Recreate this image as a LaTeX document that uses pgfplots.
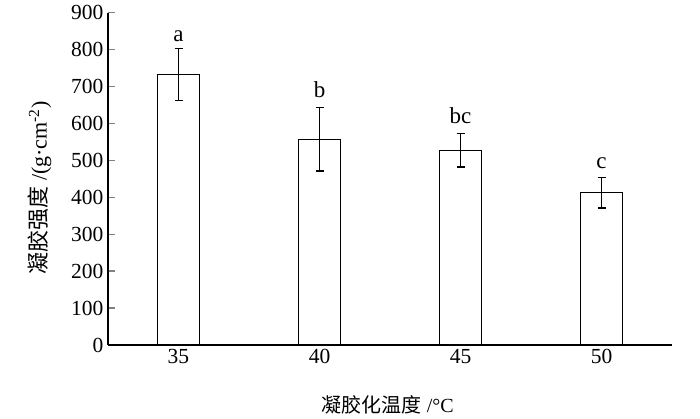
\documentclass[border=0pt]{standalone}
\usepackage{pgfplots}
\pgfplotsset{compat=1.18}
\usepackage{fontspec}
\setmainfont{Liberation Serif}
\newfontfamily\cjk{Noto Sans CJK SC}
\begin{document}
\begin{tikzpicture}[x=1pt,y=1pt]
\useasboundingbox (-108,-74) rectangle (592,345);
\begin{axis}[
  at={(0,0)}, anchor=south west,
  scale only axis, width=564pt, height=332.5pt,
  xmin=-0.5, xmax=3.5, ymin=0, ymax=900,
  axis lines*=left,
  axis line style={line width=1.4pt},
  xtick={0,1,2,3}, xticklabels={35,40,45,50},
  x tick style={draw=none},
  ytick={0,100,...,900},
  tick align=inside, major tick length=7pt,
  y tick style={line width=1.3pt},
  /pgf/number format/assume math mode=true,
  tick label style={font=\fontsize{21.5}{21.5}\selectfont},
  xticklabel style={yshift=-1pt},
  yticklabel style={xshift=-1pt},
  ylabel={{\cjk 凝胶强度} /(g·cm\textsuperscript{-2})},
  xlabel={{\cjk 凝胶化温度} /°C},
  xlabel style={font=\fontsize{20}{22}\selectfont, at={(axis description cs:0.496,-0.18)}, anchor=center},
  ylabel style={font=\fontsize{22}{24}\selectfont, at={(axis description cs:-0.121,0.472)}, anchor=center},
  clip=false,
]
\addplot[ybar, bar width=42pt, fill=white, draw=black, line width=1.3pt,
  error bars/.cd, y dir=both, y explicit,
  error bar style={line width=1.3pt},
  error mark options={rotate=90, mark size=4pt, line width=1.3pt}]
  table[x=x, y=y, y error=e] {
x y e
0 732 71
1 557 86
2 527 45
3 412 41
};
\node[font=\fontsize{23}{23}\selectfont] at (axis cs:0,836) {a};
\node[font=\fontsize{23}{23}\selectfont] at (axis cs:1,690) {b};
\node[font=\fontsize{23}{23}\selectfont] at (axis cs:2,620) {bc};
\node[font=\fontsize{23}{23}\selectfont] at (axis cs:3,493) {c};
\end{axis}
\end{tikzpicture}
\end{document}
